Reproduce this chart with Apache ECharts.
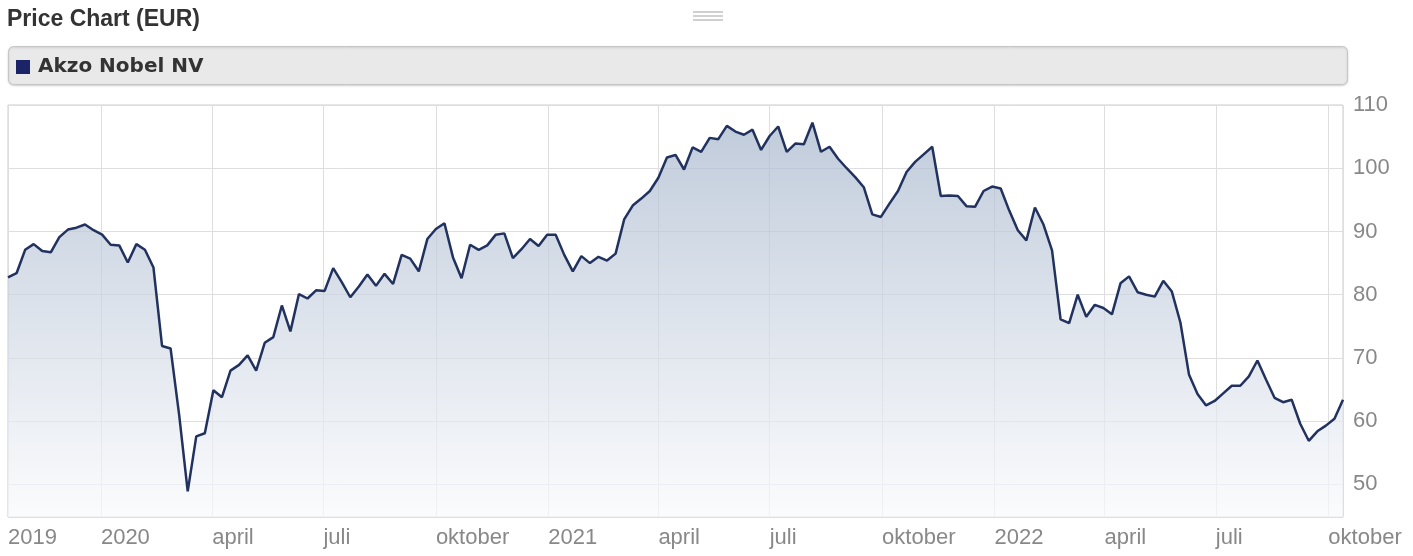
<!DOCTYPE html>
<html>
<head>
<meta charset="utf-8">
<script src="https://cdn.jsdelivr.net/npm/echarts@6/dist/echarts.min.js"></script>
<style>
html,body{margin:0;padding:0;background:#fff;}
#chart{width:1413px;height:556px;}
</style>
</head>
<body>
<div id="chart"></div>
<script>
// ---- data ----
var seriesName = 'Akzo Nobel NV';
var titleText = 'Price Chart (EUR)';
var dates = [
'2019-10-17','2019-10-24','2019-10-31','2019-11-07','2019-11-14','2019-11-21','2019-11-28','2019-12-05','2019-12-12','2019-12-19','2019-12-26',
'2020-01-02','2020-01-09','2020-01-16','2020-01-23','2020-01-30','2020-02-06','2020-02-13','2020-02-20','2020-02-27','2020-03-05','2020-03-12','2020-03-19','2020-03-26',
'2020-04-02','2020-04-09','2020-04-16','2020-04-23','2020-04-30','2020-05-07','2020-05-14','2020-05-21','2020-05-28','2020-06-04','2020-06-11','2020-06-18','2020-06-25',
'2020-07-02','2020-07-09','2020-07-16','2020-07-23','2020-07-30','2020-08-06','2020-08-13','2020-08-20','2020-08-27','2020-09-03','2020-09-10','2020-09-17','2020-09-24',
'2020-10-01','2020-10-08','2020-10-15','2020-10-22','2020-10-29','2020-11-05','2020-11-12','2020-11-19','2020-11-26','2020-12-03','2020-12-10','2020-12-17','2020-12-24','2020-12-31',
'2021-01-07','2021-01-14','2021-01-21','2021-01-28','2021-02-04','2021-02-11','2021-02-18','2021-02-25','2021-03-04','2021-03-11','2021-03-18','2021-03-25',
'2021-04-01','2021-04-08','2021-04-15','2021-04-22','2021-04-29','2021-05-06','2021-05-13','2021-05-20','2021-05-27','2021-06-03','2021-06-10','2021-06-17','2021-06-24',
'2021-07-01','2021-07-08','2021-07-15','2021-07-22','2021-07-29','2021-08-05','2021-08-12','2021-08-19','2021-08-26','2021-09-02','2021-09-09','2021-09-16','2021-09-23','2021-09-30',
'2021-10-07','2021-10-14','2021-10-21','2021-10-28','2021-11-04','2021-11-11','2021-11-18','2021-11-25','2021-12-02','2021-12-09','2021-12-16','2021-12-23','2021-12-30',
'2022-01-06','2022-01-13','2022-01-20','2022-01-27','2022-02-03','2022-02-10','2022-02-17','2022-02-24','2022-03-03','2022-03-10','2022-03-17','2022-03-24','2022-03-31',
'2022-04-07','2022-04-14','2022-04-21','2022-04-28','2022-05-05','2022-05-12','2022-05-19','2022-05-26','2022-06-02','2022-06-09','2022-06-16','2022-06-23','2022-06-30',
'2022-07-07','2022-07-14','2022-07-21','2022-07-28','2022-08-04','2022-08-11','2022-08-18','2022-08-25','2022-09-01','2022-09-08','2022-09-15','2022-09-22','2022-09-29',
'2022-10-06','2022-10-13'
];
var prices = [
82.75,83.4,87.1,88.0,86.9,86.7,89.1,90.3,90.6,91.1,90.2,89.5,87.9,87.8,85.1,88.0,87.1,84.3,71.9,71.5,61.0,48.9,57.6,58.1,64.9,63.8,
68.0,68.9,70.4,68.0,72.4,73.3,78.3,74.2,80.1,79.4,80.7,80.6,84.2,82.0,79.6,81.3,83.2,81.4,83.3,81.7,86.3,85.7,83.7,88.8,90.4,91.3,
85.9,82.6,87.9,87.1,87.8,89.5,89.7,85.8,87.2,88.8,87.7,89.5,89.5,86.3,83.7,86.1,85.0,86.0,85.4,86.5,91.9,94.1,95.2,96.4,98.5,101.7,
102.1,99.8,103.3,102.6,104.8,104.6,106.7,105.8,105.3,106.1,102.9,105.1,106.6,102.6,103.9,103.8,107.2,102.6,103.4,101.5,100.0,98.6,97.0,92.7,92.3,
94.4,96.4,99.4,101.0,102.2,103.4,95.6,95.7,95.6,94.0,93.9,96.4,97.1,96.8,93.3,90.2,88.6,93.8,91.1,87.0,76.1,75.5,80.0,76.5,78.4,77.9,
76.9,81.8,82.9,80.4,80.0,79.7,82.2,80.5,75.6,67.4,64.3,62.5,63.2,64.4,65.6,65.6,67.1,69.6,66.6,63.7,63.0,63.4,59.6,56.9,58.4,59.3,60.4,63.4
];
var monthLabels = {3: 'april', 6: 'juli', 9: 'oktober'};
var yMin = 44.85, yMax = 110, yStep = 10;

// ---- chart ----
var DAY = 86400000;
var chart = echarts.init(document.getElementById('chart'), null, {renderer: 'canvas'});
var firstTs = echarts.time.parse(dates[0]).getTime();
var data = dates.map(function (d, i) { return [d, prices[i]]; });

function xFmt(v) {
  var d = new Date(v);
  if (d.getDate() !== 1) {
    return Math.abs(v - firstTs) < DAY ? String(d.getFullYear()) : '';
  }
  var m = d.getMonth();
  if (m === 0) return String(d.getFullYear());
  return monthLabels[m] || '';
}

var option = {
  animation: false,
  backgroundColor: '#ffffff',
  title: {
    text: titleText, left: 2, top: 3,
    textStyle: {fontFamily: '"Liberation Sans", Arial, sans-serif', fontSize: 23, fontWeight: 'bold', color: '#333333'}
  },
  legend: {
    data: [seriesName], left: 11, top: 52, icon: 'rect', itemWidth: 14, itemHeight: 14, z: 10,
    textStyle: {fontFamily: '"DejaVu Sans", Verdana, sans-serif', fontSize: 20, fontWeight: 'bold', color: '#333333', padding: [0, 0, 0, 3]}
  },
  graphic: [
    {type: 'rect', z: 0, shape: {x: 8.5, y: 46.5, width: 1339, height: 38, r: 5},
     style: {fill: '#e9e9e9', stroke: '#c6c6c6', lineWidth: 1, shadowBlur: 2, shadowOffsetY: 1, shadowColor: 'rgba(0,0,0,0.15)'}},
    {type: 'rect', z: 0, shape: {x: 693, y: 11, width: 30, height: 2}, style: {fill: '#d0d0d0'}},
    {type: 'rect', z: 0, shape: {x: 693, y: 15, width: 30, height: 2}, style: {fill: '#d0d0d0'}},
    {type: 'rect', z: 0, shape: {x: 693, y: 19, width: 30, height: 2}, style: {fill: '#d0d0d0'}}
  ],
  grid: {left: 8, right: 70, top: 105, bottom: 39, show: true, borderColor: '#cccccc', borderWidth: 1, backgroundColor: 'transparent', containLabel: false},
  xAxis: {
    type: 'time', min: 'dataMin', max: 'dataMax',
    minInterval: 92 * DAY, maxInterval: 92 * DAY,
    axisLine: {show: false}, axisTick: {show: false},
    splitLine: {show: true, lineStyle: {color: '#dedede', width: 1}},
    axisLabel: {
      formatter: xFmt, align: 'left', margin: 10, color: '#888888', fontSize: 22,
      fontFamily: '"Liberation Sans", Arial, sans-serif', hideOverlap: false, showMinLabel: true, showMaxLabel: true
    }
  },
  yAxis: {
    type: 'value', position: 'right', min: yMin, max: yMax, minInterval: yStep, maxInterval: yStep,
    axisLine: {show: false}, axisTick: {show: false},
    splitLine: {show: true, lineStyle: {color: '#dedede', width: 1}},
    axisLabel: {
      formatter: function (v) { return Math.abs(v % yStep) < 1e-6 ? String(v) : ''; },
      margin: 10, color: '#888888', fontSize: 22, fontFamily: '"Liberation Sans", Arial, sans-serif'
    }
  },
  series: [{
    name: seriesName, type: 'line', data: data, symbol: 'none', showSymbol: false,
    lineStyle: {color: '#22325f', width: 2.5},
    itemStyle: {color: '#1a2466'},
    areaStyle: {color: new echarts.graphic.LinearGradient(0, 0, 0, 1, [
      {offset: 0, color: '#a6b6cc'}, {offset: 1, color: '#f9fafc'}
    ])}
  }]
};
chart.setOption(option);
</script>
</body>
</html>
